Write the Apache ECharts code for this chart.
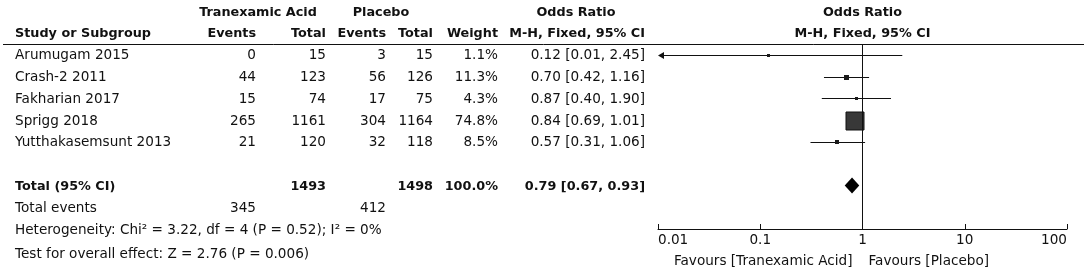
<!DOCTYPE html>
<html>
<head>
<meta charset="utf-8">
<script src="https://cdn.jsdelivr.net/npm/echarts@6/dist/echarts.min.js"></script>
<style>
  html, body { margin: 0; padding: 0; background: #fff; }
  #forest { width: 1084px; height: 274px; }
</style>
</head>
<body>
<div id="forest"></div>
<script>
// study level data
var studies = ['Arumugam 2015', 'Crash-2 2011', 'Fakharian 2017', 'Sprigg 2018', 'Yutthakasemsunt 2013']
var txaEvents = [0, 44, 15, 265, 21]
var txaTotal = [15, 123, 74, 1161, 120]
var plaEvents = [3, 56, 17, 304, 32]
var plaTotal = [15, 126, 75, 1164, 118]
var weights = [1.1, 11.3, 4.3, 74.8, 8.5]
var orValue = [0.12, 0.70, 0.87, 0.84, 0.57]
var ciLow = [0.01, 0.42, 0.40, 0.69, 0.31]
var ciHigh = [2.45, 1.16, 1.90, 1.01, 1.06]

// pooled result
var pooled = [0.79, 0.67, 0.93]
var totalN = [1493, 1498]
var totalEvents = [345, 412]
var footNotes = [
  'Heterogeneity: Chi\u00b2 = 3.22, df = 4 (P = 0.52); I\u00b2 = 0%',
  'Test for overall effect: Z = 2.76 (P = 0.006)'
]

var xTicks = [0.01, 0.1, 1, 10, 100]

var font = 'DejaVu Sans'
var ink = '#111'
var regSize = 13.6
var boldSize = 12.8
var totalRow = studies.length + 1
var maxWeight = Math.max.apply(null, weights)

var myChart = echarts.init(document.getElementById('forest'))

function fmt (v) { return v.toFixed(2) }

function renderStudy (params, api) {
  var row = api.value(0)
  var mid = api.coord([api.value(1), row])
  var lo = api.coord([api.value(2), row])
  var hi = api.coord([api.value(3), row])
  var y = Math.round(mid[1]) + 0.5
  // box area grows with weight, RevMan style
  var size = 2.5 + 15 * api.value(4) / maxWeight
  var kids = []
  var clipped = api.value(2) <= xTicks[0]
  kids.push({
    type: 'line',
    shape: { x1: clipped ? lo[0] + 3 : lo[0], y1: y, x2: hi[0], y2: y },
    style: { stroke: ink, lineWidth: 1 }
  })
  if (clipped) {
    kids.push({
      type: 'polygon',
      shape: { points: [[lo[0], y], [lo[0] + 6, y - 3.5], [lo[0] + 6, y + 3.5]] },
      style: { fill: ink }
    })
  }
  var big = size > 8
  kids.push({
    type: 'rect',
    shape: { x: Math.round(mid[0] - size / 2), y: Math.round(y - size / 2), width: Math.round(size), height: Math.round(size) },
    style: { fill: big ? '#383838' : '#1a1a1a', stroke: big ? '#111' : null, lineWidth: 1 }
  })
  return { type: 'group', children: kids }
}

function renderDiamond (params, api) {
  var row = api.value(0)
  var mid = api.coord([api.value(1), row])
  var lo = api.coord([api.value(2), row])
  var hi = api.coord([api.value(3), row])
  var h = 8
  return {
    type: 'polygon',
    shape: { points: [[lo[0], mid[1]], [mid[0], mid[1] - h], [hi[0], mid[1]], [mid[0], mid[1] + h]] },
    style: { fill: '#000' }
  }
}

var option = {
  animation: false,
  backgroundColor: '#fff',
  grid: { left: 658, right: 17, top: 44, bottom: 45 },
  xAxis: {
    type: 'log',
    logBase: 10,
    position: 'bottom',
    min: xTicks[0],
    max: xTicks[xTicks.length - 1],
    axisLine: { show: true, onZero: false, lineStyle: { color: ink, width: 1 } },
    axisTick: { show: true, inside: true, length: 5, lineStyle: { color: ink } },
    splitLine: { show: false },
    axisLabel: {
      color: ink,
      fontFamily: font,
      fontSize: regSize,
      margin: 4,
      alignMinLabel: 'left',
      alignMaxLabel: 'right',
      formatter: function (v) { return String(parseFloat(Number(v).toPrecision(3))) }
    }
  },
  yAxis: { type: 'value', inverse: true, min: -0.5, max: 8, show: false },
  series: [{
    type: 'custom',
    renderItem: renderStudy,
    data: studies.map(function (s, i) { return [i, orValue[i], ciLow[i], ciHigh[i], weights[i]] }),
    markLine: {
      silent: true,
      symbol: 'none',
      label: { show: false },
      lineStyle: { color: ink, type: 'solid', width: 1 },
      data: [{ xAxis: 1 }]
    }
  }, {
    type: 'custom',
    renderItem: renderDiamond,
    data: [[totalRow, pooled[0], pooled[1], pooled[2]]]
  }]
}

myChart.setOption(option)

// table text, placed on the same row scale as the plot
function rowY (r) { return myChart.convertToPixel({ yAxisIndex: 0 }, r) }
function txt (x, r, s, align, bold, dy) {
  return {
    type: 'text',
    x: x,
    y: rowY(r) + 1 + (dy || 0),
    style: {
      text: String(s),
      fill: ink,
      font: (bold ? 'bold ' + boldSize : regSize) + 'px "' + font + '"',
      textAlign: align,
      textVerticalAlign: 'middle'
    }
  }
}

var cols = { study: 15, txaEv: 256, txaTot: 326, plaEv: 386, plaTot: 433, weight: 498, or: 645 }
var oneX = myChart.convertToPixel({ xAxisIndex: 0 }, 1)
var g = []

g.push(txt(258, -2, 'Tranexamic Acid', 'center', true))
g.push(txt(381, -2, 'Placebo', 'center', true))
g.push(txt(576, -2, 'Odds Ratio', 'center', true))
g.push(txt(oneX, -2, 'Odds Ratio', 'center', true))
g.push(txt(cols.study, -1, 'Study or Subgroup', 'left', true))
g.push(txt(cols.txaEv, -1, 'Events', 'right', true))
g.push(txt(cols.txaTot, -1, 'Total', 'right', true))
g.push(txt(cols.plaEv, -1, 'Events', 'right', true))
g.push(txt(cols.plaTot, -1, 'Total', 'right', true))
g.push(txt(cols.weight, -1, 'Weight', 'right', true))
g.push(txt(cols.or, -1, 'M-H, Fixed, 95% CI', 'right', true))
g.push(txt(oneX, -1, 'M-H, Fixed, 95% CI', 'center', true))

studies.forEach(function (s, i) {
  g.push(txt(cols.study, i, s, 'left'))
  g.push(txt(cols.txaEv, i, txaEvents[i], 'right'))
  g.push(txt(cols.txaTot, i, txaTotal[i], 'right'))
  g.push(txt(cols.plaEv, i, plaEvents[i], 'right'))
  g.push(txt(cols.plaTot, i, plaTotal[i], 'right'))
  g.push(txt(cols.weight, i, weights[i].toFixed(1) + '%', 'right'))
  g.push(txt(cols.or, i, fmt(orValue[i]) + ' [' + fmt(ciLow[i]) + ', ' + fmt(ciHigh[i]) + ']', 'right'))
})

var wSum = weights.reduce(function (a, b) { return a + b }, 0)
g.push(txt(cols.study, totalRow, 'Total (95% CI)', 'left', true))
g.push(txt(cols.txaTot, totalRow, totalN[0], 'right', true))
g.push(txt(cols.plaTot, totalRow, totalN[1], 'right', true))
g.push(txt(cols.weight, totalRow, wSum.toFixed(1) + '%', 'right', true))
g.push(txt(cols.or, totalRow, fmt(pooled[0]) + ' [' + fmt(pooled[1]) + ', ' + fmt(pooled[2]) + ']', 'right', true))

g.push(txt(cols.study, totalRow + 1, 'Total events', 'left', false, 0.5))
g.push(txt(cols.txaEv, totalRow + 1, totalEvents[0], 'right', false, 0.5))
g.push(txt(cols.plaEv, totalRow + 1, totalEvents[1], 'right', false, 0.5))
g.push(txt(cols.study, totalRow + 2, footNotes[0], 'left', false, 0.5))
g.push(txt(cols.study, totalRow + 3, footNotes[1], 'left', false, 2.5))

// header rule
var ruleY = Math.round(rowY(-0.5)) + 0.5
g.push({ type: 'line', shape: { x1: 3, y1: ruleY, x2: 1084, y2: ruleY }, style: { stroke: ink, lineWidth: 1 } })

// favours labels under the axis
var favY = rowY(8) + 32
g.push({ type: 'text', x: oneX - 10, y: favY, style: { text: 'Favours [Tranexamic Acid]', fill: ink, font: regSize + 'px "' + font + '"', textAlign: 'right', textVerticalAlign: 'middle' } })
g.push({ type: 'text', x: oneX + 6, y: favY, style: { text: 'Favours [Placebo]', fill: ink, font: regSize + 'px "' + font + '"', textAlign: 'left', textVerticalAlign: 'middle' } })

myChart.setOption({ graphic: g })

window.addEventListener('resize', function () { myChart.resize() })
</script>
</body>
</html>
